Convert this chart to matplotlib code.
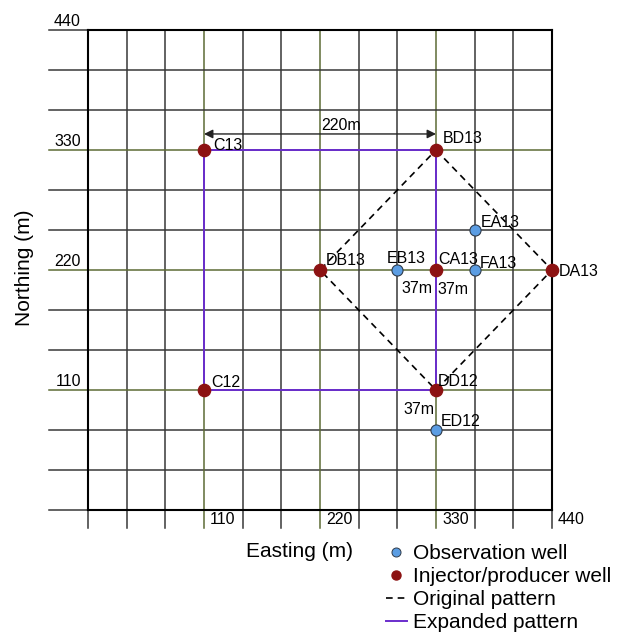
import numpy as np
import matplotlib.pyplot as plt
from matplotlib.lines import Line2D

plt.rcParams['font.family'] = ['Liberation Sans', 'DejaVu Sans']

# field extent and grid spacing (m)
extent = 440
ncell = 12
major = [110, 220, 330]
tick_vals = [110, 220, 330, 440]

# injector / producer wells
inj_names = ['C13', 'BD13', 'DB13', 'CA13', 'DA13', 'C12', 'DD12']
inj_x = [110, 330, 220, 330, 440, 110, 330]
inj_y = [330, 330, 220, 220, 220, 110, 110]

# observation wells
obs_names = ['EB13', 'FA13', 'EA13', 'ED12']
obs_x = [293.3, 366.7, 366.7, 330]
obs_y = [220, 220, 256.7, 73.3]

# original (diamond) and expanded (square) patterns
orig_x = [330, 440, 330, 220, 330]
orig_y = [330, 220, 110, 220, 330]
exp_x = [110, 330, 330, 110, 110]
exp_y = [330, 330, 110, 110, 330]

# label offsets in pixels (dx, dy)
lab_off = {
    'C13': (9, 0), 'BD13': (7, 7), 'C12': (7, 3), 'DB13': (6, 5),
    'EB13': (-11, 7), 'CA13': (2, 6), 'FA13': (5, 2), 'EA13': (6, 3),
    'DA13': (7, -6), 'DD12': (2, 4), 'ED12': (5, 4),
}

fs = 11.5
grid_col = '#383838'
olive = '#5d6b35'
purple = '#6a2dcc'
red = '#8c1212'
blue = '#5b9de3'

fig = plt.figure(figsize=(6.17, 6.36), dpi=100)
ax = fig.add_axes([88 / 617, 126 / 636, 464 / 617, 480 / 636])
ax.set_xlim(0, extent)
ax.set_ylim(0, extent)
ax.set_xticks([])
ax.set_yticks([])
for s in ax.spines.values():
    s.set_linewidth(1.5)
    s.set_color('black')
    s.set_zorder(5)

# grid, with the lines sticking out past the left and bottom edges
cell = extent / ncell
for g in np.arange(ncell + 1) * cell:
    c = olive if np.any(np.isclose(g, major)) else grid_col
    ax.plot([g, g], [-16.5, extent], color=c, lw=1.1, clip_on=False, zorder=1)
    ax.plot([-37, extent], [g, g], color=c, lw=1.1, clip_on=False, zorder=1)

# tick labels sit beside the lines
for v in tick_vals:
    ax.annotate(str(v), xy=(0, v), xytext=(-7, 4), textcoords='offset pixels',
                ha='right', va='baseline', fontsize=fs, annotation_clip=False)
    ax.annotate(str(v), xy=(v, 0), xytext=(6, -14), textcoords='offset pixels',
                ha='left', va='baseline', fontsize=fs, annotation_clip=False)

ax.plot(exp_x, exp_y, color=purple, lw=1.4, zorder=3)
ax.plot(orig_x, orig_y, color='black', lw=1.2, ls=(0, (4, 3)), zorder=3)

ax.plot(inj_x, inj_y, 'o', color=red, ms=8.8, mec=red, zorder=6, clip_on=False)
ax.plot(obs_x, obs_y, 'o', color=blue, ms=8, mec='#2f3b4a', mew=0.8, zorder=6, clip_on=False)

for n, x, y in zip(inj_names + obs_names, inj_x + obs_x, inj_y + obs_y):
    ax.annotate(n, xy=(x, y), xytext=lab_off[n], textcoords='offset pixels',
                ha='left', va='baseline', fontsize=fs, zorder=7, annotation_clip=False)

# 220 m spacing arrow between C13 and BD13
arr_y = 344.7
ax.annotate('', xy=(110, arr_y), xytext=(330, arr_y),
            arrowprops=dict(arrowstyle='<|-|>', color='#222222', lw=1.0,
                            shrinkA=0, shrinkB=0, mutation_scale=13), zorder=4)
ax.annotate('220m', xy=(220, arr_y), xytext=(1, 4), textcoords='offset pixels',
            ha='left', va='baseline', fontsize=fs)

# 37 m spacings of the observation wells
ax.annotate('37m', xy=(obs_x[0], obs_y[0]), xytext=(4, -23), textcoords='offset pixels',
            ha='left', va='baseline', fontsize=fs)
ax.annotate('37m', xy=(inj_x[3], inj_y[3]), xytext=(1, -24), textcoords='offset pixels',
            ha='left', va='baseline', fontsize=fs)
ax.annotate('37m', xy=(obs_x[3], obs_y[3]), xytext=(-2, 16), textcoords='offset pixels',
            ha='right', va='baseline', fontsize=fs)

fig.text(300 / 617, 1 - 557 / 636, 'Easting (m)', ha='center', va='baseline', fontsize=15)
fig.text(25 / 617, 1 - 268 / 636, 'Northing (m)', ha='center', va='center',
         rotation=90, fontsize=15)

handles = [
    Line2D([], [], marker='o', ls='none', color=blue, mec='#2f3b4a', mew=0.7, ms=6.5),
    Line2D([], [], marker='o', ls='none', color=red, mec=red, ms=6.5),
    Line2D([], [], color='black', lw=1.2, ls=(0, (4, 3))),
    Line2D([], [], color=purple, lw=1.4),
]
labels = ['Observation well', 'Injector/producer well', 'Original pattern', 'Expanded pattern']
fig.legend(handles, labels, loc='upper left', bbox_to_anchor=(386 / 617, 1 - 544 / 636),
           frameon=False, fontsize=15, handlelength=1.0, handletextpad=0.3,
           labelspacing=0.19, borderpad=0, borderaxespad=0)

fig.savefig('out.png', dpi=100)
